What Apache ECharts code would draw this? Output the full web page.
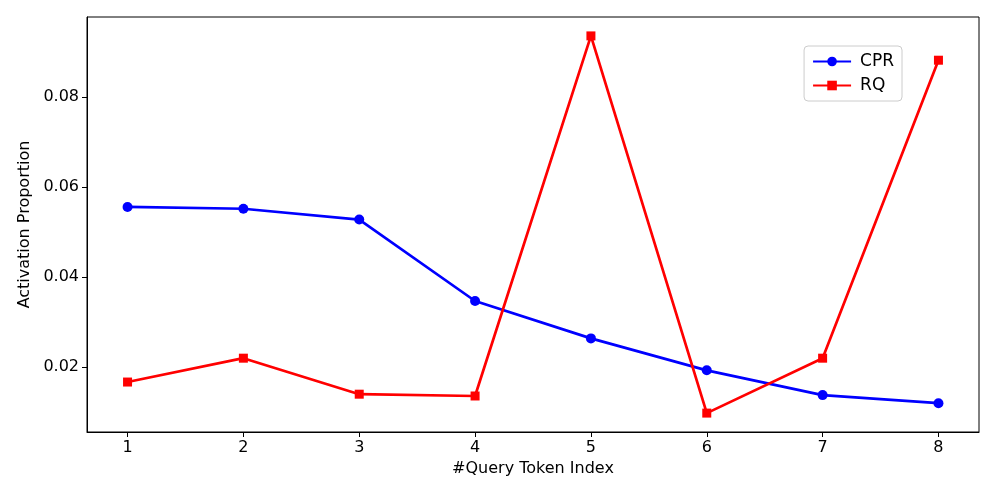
<!DOCTYPE html>
<html>
<head>
<meta charset="utf-8">
<script src="https://cdn.jsdelivr.net/npm/echarts@6/dist/echarts.min.js"></script>
<style>
  html, body { margin: 0; padding: 0; background: #fff; }
  #chart { width: 997px; height: 498px; }
</style>
</head>
<body>
<div id="chart"></div>
<script>
// token index on the x axis
const tokenIndex = [1, 2, 3, 4, 5, 6, 7, 8];
// activation proportion
const cprValues = [0.0556, 0.0552, 0.0528, 0.0347, 0.0264, 0.0193, 0.0138, 0.0120];
const rqValues = [0.0167, 0.0220, 0.0140, 0.0136, 0.0936, 0.0098, 0.0220, 0.0882];
const yTicks = [0.02, 0.04, 0.06, 0.08];

const font = 'DejaVu Sans';
const chart = echarts.init(document.getElementById('chart'), null, { renderer: 'canvas' });

const pairs = (vals) => tokenIndex.map((x, i) => [x, vals[i]]);

const option = {
  animation: false,
  backgroundColor: '#fff',
  textStyle: { fontFamily: font },
  grid: { left: 87, right: 18, top: 17, bottom: 66 },
  legend: {
    right: 95,
    top: 46,
    orient: 'vertical',
    itemWidth: 38,
    itemHeight: 12,
    itemGap: 7,
    padding: [7, 8, 7, 8],
    borderColor: '#ccc',
    borderWidth: 1,
    borderRadius: 4,
    backgroundColor: '#fff',
    textStyle: { fontFamily: font, fontSize: 17, color: '#000', padding: [0, 0, 0, 4] },
    data: ['CPR', 'RQ']
  },
  xAxis: {
    type: 'value',
    min: 0.65,
    max: 8.35,
    name: '#Query Token Index',
    nameLocation: 'middle',
    nameGap: 29,
    nameTextStyle: { fontFamily: font, fontSize: 16, color: '#000' },
    axisLine: { show: true, lineStyle: { color: '#000', width: 1 } },
    axisTick: { show: true, customValues: tokenIndex, length: 5, lineStyle: { color: '#000' } },
    axisLabel: { customValues: tokenIndex, fontFamily: font, fontSize: 16, color: '#000', margin: 8 },
    splitLine: { show: false }
  },
  yAxis: {
    type: 'value',
    min: 0.0056,
    max: 0.0978,
    name: 'Activation Proportion',
    nameLocation: 'middle',
    nameGap: 49,
    nameTextStyle: { fontFamily: font, fontSize: 16, color: '#000' },
    axisLine: { show: true, lineStyle: { color: '#000', width: 1 } },
    axisTick: { show: true, customValues: yTicks, length: 5, lineStyle: { color: '#000' } },
    axisLabel: {
      customValues: yTicks,
      fontFamily: font, fontSize: 16, color: '#000', margin: 8,
      formatter: (v) => v.toFixed(2)
    },
    splitLine: { show: false }
  },
  series: [
    {
      name: 'CPR',
      type: 'line',
      data: pairs(cprValues),
      symbol: 'circle',
      symbolSize: 10,
      lineStyle: { color: '#0000ff', width: 2.7 },
      itemStyle: { color: '#0000ff' }
    },
    {
      name: 'RQ',
      type: 'line',
      data: pairs(rqValues),
      symbol: 'rect',
      symbolSize: 9,
      lineStyle: { color: '#ff0000', width: 2.7 },
      itemStyle: { color: '#ff0000' }
    }
  ]
};

chart.setOption(option);
// frame on the top and right like the original box
chart.setOption({
  graphic: [{
    type: 'rect',
    shape: { x: 87, y: 17, width: 997 - 87 - 18, height: 498 - 17 - 66 },
    style: { fill: 'none', stroke: '#000', lineWidth: 1 },
    silent: true,
    z: 0
  }]
});
</script>
</body>
</html>
